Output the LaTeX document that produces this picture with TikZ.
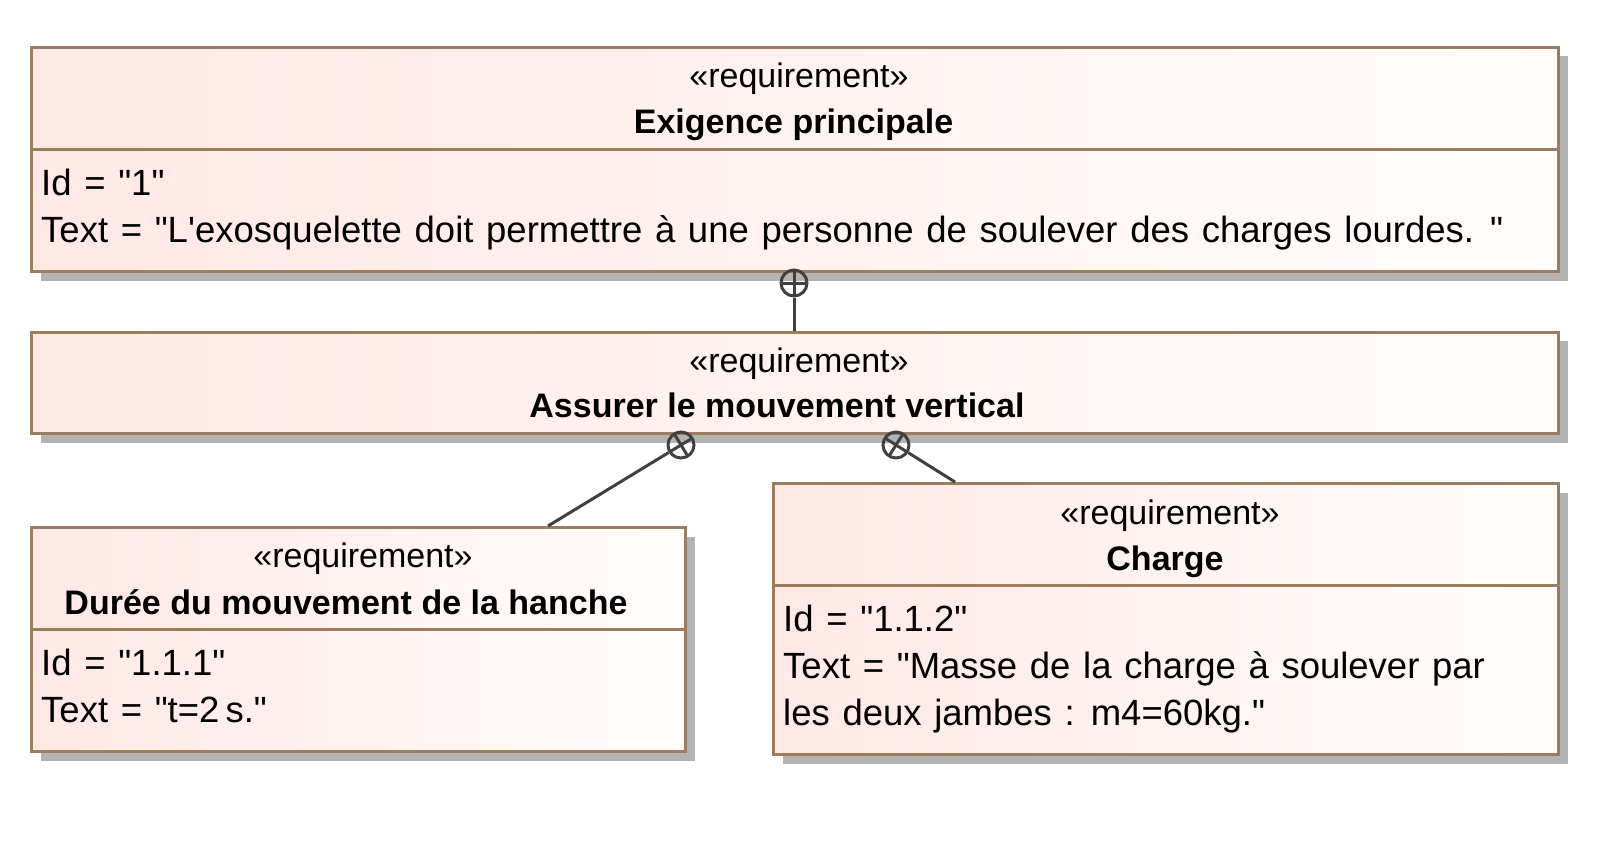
\documentclass[tikz,border=0pt]{standalone}
\usepackage{fontspec}
\setmainfont{Liberation Sans}[Ligatures=TeXOff]
\newcommand\attrspacing{\spaceskip=1.25\fontdimen2\font\relax}
\usetikzlibrary{calc,shadows}
\definecolor{reqpink}{RGB}{255,232,229}
\definecolor{reqwhite}{RGB}{255,253,252}
\definecolor{reqborder}{RGB}{158,124,94}
\definecolor{reqshadow}{RGB}{179,179,179}
\definecolor{linkgray}{RGB}{64,64,64}
\tikzset{
  reqbox/.style={rectangle, draw=reqborder, line width=3pt, left color=reqpink, right color=reqwhite,
    inner sep=0pt, anchor=north west,
    drop shadow={shadow xshift=9pt, shadow yshift=-9pt, fill=reqshadow, opacity=1}},
  divider/.style={draw=reqborder, line width=3pt},
  stereo/.style={font=\fontsize{34}{40}\selectfont, anchor=base, inner sep=0pt},
  reqtitle/.style={font=\bfseries\fontsize{34}{40}\selectfont, anchor=base, inner sep=0pt},
  attr/.style={font=\fontsize{36.5}{47}\selectfont, execute at begin node=\attrspacing, anchor=base west, inner sep=0pt},
  link/.style={draw=linkgray, line width=3pt},
  contain/.style={circle, draw=linkgray, line width=3pt, minimum size=26pt, inner sep=0pt},
  cross/.style={draw=linkgray, line width=3pt},
}
\begin{document}
\begin{tikzpicture}[x=1pt,y=-1pt]
\useasboundingbox (0,0) rectangle (1623,841);
% boxes
\node[reqbox, minimum width=1527pt, minimum height=224.4pt] (b1) at (30,45.6) {};
\node[reqbox, minimum width=1527pt, minimum height=101.5pt] (b2) at (30,330.5) {};
\node[reqbox, minimum width=654pt, minimum height=224pt] (b3) at (30,526) {};
\node[reqbox, minimum width=785pt, minimum height=271pt] (b4) at (772,482) {};
% dividers
\draw[divider] (b1.west |- 0,149) -- (b1.east |- 0,149);
\draw[divider] (b3.west |- 0,629) -- (b3.east |- 0,629);
\draw[divider] (b4.west |- 0,585) -- (b4.east |- 0,585);
% texts box 1
\node[stereo] (s1) at (799,87) {«requirement»};
\node[reqtitle] (t1) at (793.5,133) {Exigence principale};
\node[attr] (a1) at (41,195) {Id = "1"};
\node[attr] (a2) at (41,242) {Text = "L'exosquelette doit permettre à une personne de soulever des charges lourdes. "};
% box 2
\node[stereo] (s2) at (799,372) {«requirement»};
\node[reqtitle] (t2) at (777,417) {Assurer le mouvement vertical};
% box 3
\node[stereo] (s3) at (363,567) {«requirement»};
\node[reqtitle] (t3) at (346,614) {Durée du mouvement de la hanche};
\node[attr] (a3) at (41,675) {Id = "1.1.1"};
\node[attr] (a4) at (41,722) {Text = "t=2\,s."};
% box 4
\node[stereo] (s4) at (1170,524) {«requirement»};
\node[reqtitle] (t4) at (1165,570) {Charge};
\node[attr] (a5) at (783,631) {Id = "1.1.2"};
\node[attr] (a6) at (783,678) {Text = "Masse de la charge à soulever par};
\node[attr] (a7) at (783,725) {les deux jambes : m4=60kg."};
% containment
\node[contain] (k1) at (794,283) {};
\node[contain] (k2) at (681,445) {};
\node[contain] (k3) at (896,445) {};
\coordinate (e1) at (794,330.5);
\coordinate (e2) at (548,526);
\coordinate (e3) at (955,482);
\draw[link] (k1) -- (e1);
\draw[link] (k2) -- (e2);
\draw[link] (k3) -- (e3);
\foreach \k/\e in {k1/e1,k2/e2,k3/e3}{
  \draw[cross] ($(\k)!13pt!(\e)$) -- ($(\k)!-13pt!(\e)$);
  \draw[cross] ($(\k)!13pt!90:(\e)$) -- ($(\k)!13pt!-90:(\e)$);
}
\end{tikzpicture}
\end{document}
